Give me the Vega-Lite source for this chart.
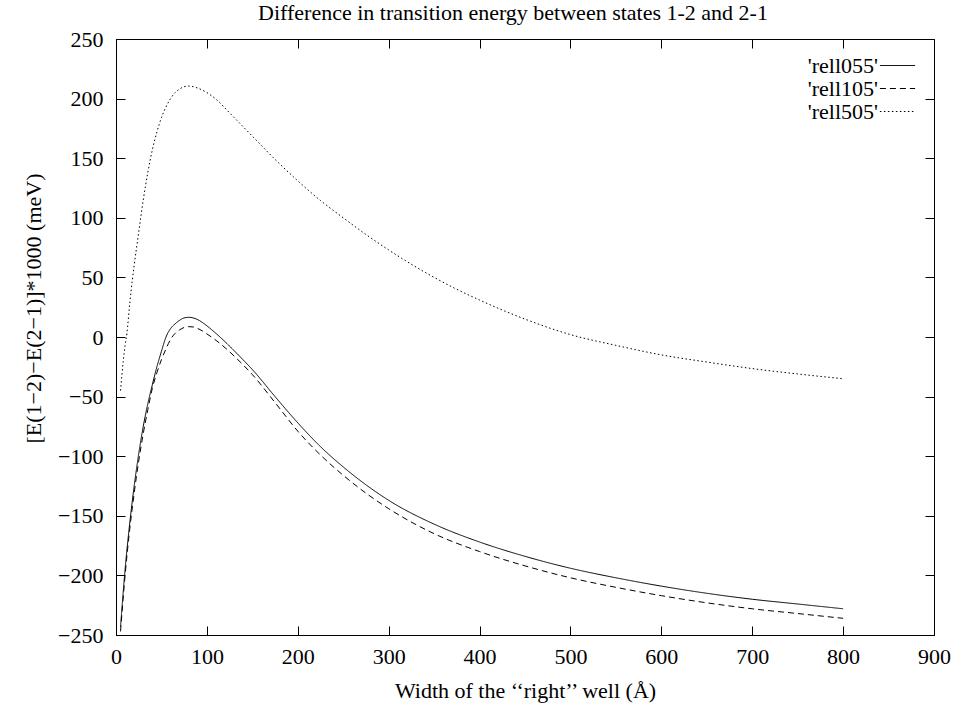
{
  "$schema": "https://vega.github.io/schema/vega-lite/v6.json",
  "width": 818,
  "height": 596,
  "autosize": {"type": "none"},
  "padding": {"left": 116, "top": 39, "right": 23, "bottom": 69},
  "background": "white",
  "config": {
    "font": "Liberation Serif",
    "view": {"stroke": "black", "strokeWidth": 1},
    "axis": {
      "labelFont": "Liberation Serif",
      "labelFontSize": 22,
      "labelColor": "black",
      "titleFont": "Liberation Serif",
      "titleFontSize": 22,
      "titleFontWeight": "normal",
      "titleColor": "black",
      "domainColor": "black",
      "tickColor": "black",
      "tickSize": -9,
      "grid": false
    }
  },
  "title": {
    "text": "Difference in transition energy between states 1-2 and 2-1",
    "font": "Liberation Serif",
    "fontSize": 22,
    "fontWeight": "normal",
    "color": "black",
    "anchor": "middle",
    "dx": -12,
    "offset": 3
  },
  "datasets": {
    "curves": [
      {"series": "'rell055'", "x": 5, "y": -243},
      {"series": "'rell055'", "x": 10, "y": -195},
      {"series": "'rell055'", "x": 15, "y": -157},
      {"series": "'rell055'", "x": 20, "y": -125},
      {"series": "'rell055'", "x": 25, "y": -98},
      {"series": "'rell055'", "x": 30, "y": -75},
      {"series": "'rell055'", "x": 35, "y": -56},
      {"series": "'rell055'", "x": 40, "y": -40},
      {"series": "'rell055'", "x": 45, "y": -25},
      {"series": "'rell055'", "x": 50, "y": -12},
      {"series": "'rell055'", "x": 55, "y": 0},
      {"series": "'rell055'", "x": 60, "y": 7},
      {"series": "'rell055'", "x": 65, "y": 11},
      {"series": "'rell055'", "x": 70, "y": 14},
      {"series": "'rell055'", "x": 75, "y": 16},
      {"series": "'rell055'", "x": 80, "y": 16.5},
      {"series": "'rell055'", "x": 85, "y": 16},
      {"series": "'rell055'", "x": 90, "y": 14.5},
      {"series": "'rell055'", "x": 95, "y": 12.2},
      {"series": "'rell055'", "x": 100, "y": 9.4},
      {"series": "'rell055'", "x": 110, "y": 3},
      {"series": "'rell055'", "x": 120, "y": -4},
      {"series": "'rell055'", "x": 130, "y": -11.5},
      {"series": "'rell055'", "x": 140, "y": -19.3},
      {"series": "'rell055'", "x": 150, "y": -27.3},
      {"series": "'rell055'", "x": 175, "y": -50},
      {"series": "'rell055'", "x": 200, "y": -72},
      {"series": "'rell055'", "x": 225, "y": -92},
      {"series": "'rell055'", "x": 250, "y": -109},
      {"series": "'rell055'", "x": 275, "y": -124},
      {"series": "'rell055'", "x": 300, "y": -137},
      {"series": "'rell055'", "x": 350, "y": -157},
      {"series": "'rell055'", "x": 400, "y": -172},
      {"series": "'rell055'", "x": 450, "y": -184},
      {"series": "'rell055'", "x": 500, "y": -194},
      {"series": "'rell055'", "x": 550, "y": -202},
      {"series": "'rell055'", "x": 600, "y": -209},
      {"series": "'rell055'", "x": 650, "y": -215},
      {"series": "'rell055'", "x": 700, "y": -220},
      {"series": "'rell055'", "x": 750, "y": -224},
      {"series": "'rell055'", "x": 800, "y": -228},
      {"series": "'rell105'", "x": 5, "y": -247},
      {"series": "'rell105'", "x": 10, "y": -200},
      {"series": "'rell105'", "x": 15, "y": -162},
      {"series": "'rell105'", "x": 20, "y": -131},
      {"series": "'rell105'", "x": 25, "y": -104},
      {"series": "'rell105'", "x": 30, "y": -81},
      {"series": "'rell105'", "x": 35, "y": -61},
      {"series": "'rell105'", "x": 40, "y": -43},
      {"series": "'rell105'", "x": 45, "y": -30},
      {"series": "'rell105'", "x": 50, "y": -19},
      {"series": "'rell105'", "x": 55, "y": -10},
      {"series": "'rell105'", "x": 60, "y": -2},
      {"series": "'rell105'", "x": 65, "y": 3},
      {"series": "'rell105'", "x": 70, "y": 6},
      {"series": "'rell105'", "x": 75, "y": 8},
      {"series": "'rell105'", "x": 80, "y": 8.7},
      {"series": "'rell105'", "x": 85, "y": 8.4},
      {"series": "'rell105'", "x": 90, "y": 7.1},
      {"series": "'rell105'", "x": 95, "y": 5.1},
      {"series": "'rell105'", "x": 100, "y": 2.6},
      {"series": "'rell105'", "x": 105, "y": 0},
      {"series": "'rell105'", "x": 110, "y": -2.8},
      {"series": "'rell105'", "x": 120, "y": -9},
      {"series": "'rell105'", "x": 130, "y": -16},
      {"series": "'rell105'", "x": 140, "y": -23.5},
      {"series": "'rell105'", "x": 150, "y": -31.5},
      {"series": "'rell105'", "x": 175, "y": -55},
      {"series": "'rell105'", "x": 200, "y": -79},
      {"series": "'rell105'", "x": 225, "y": -99},
      {"series": "'rell105'", "x": 250, "y": -116},
      {"series": "'rell105'", "x": 275, "y": -131},
      {"series": "'rell105'", "x": 300, "y": -144},
      {"series": "'rell105'", "x": 350, "y": -165},
      {"series": "'rell105'", "x": 400, "y": -180},
      {"series": "'rell105'", "x": 450, "y": -192},
      {"series": "'rell105'", "x": 500, "y": -202},
      {"series": "'rell105'", "x": 550, "y": -210},
      {"series": "'rell105'", "x": 600, "y": -217},
      {"series": "'rell105'", "x": 650, "y": -223},
      {"series": "'rell105'", "x": 700, "y": -228},
      {"series": "'rell105'", "x": 750, "y": -232},
      {"series": "'rell105'", "x": 800, "y": -236},
      {"series": "'rell505'", "x": 5, "y": -45},
      {"series": "'rell505'", "x": 8, "y": -20},
      {"series": "'rell505'", "x": 10, "y": -7},
      {"series": "'rell505'", "x": 12, "y": 3},
      {"series": "'rell505'", "x": 15, "y": 27},
      {"series": "'rell505'", "x": 18, "y": 48},
      {"series": "'rell505'", "x": 20, "y": 60},
      {"series": "'rell505'", "x": 25, "y": 88},
      {"series": "'rell505'", "x": 30, "y": 115},
      {"series": "'rell505'", "x": 35, "y": 138},
      {"series": "'rell505'", "x": 40, "y": 157},
      {"series": "'rell505'", "x": 45, "y": 172},
      {"series": "'rell505'", "x": 50, "y": 184},
      {"series": "'rell505'", "x": 55, "y": 193},
      {"series": "'rell505'", "x": 60, "y": 200},
      {"series": "'rell505'", "x": 65, "y": 205},
      {"series": "'rell505'", "x": 70, "y": 208},
      {"series": "'rell505'", "x": 75, "y": 210},
      {"series": "'rell505'", "x": 80, "y": 210.5},
      {"series": "'rell505'", "x": 85, "y": 210},
      {"series": "'rell505'", "x": 90, "y": 208.8},
      {"series": "'rell505'", "x": 100, "y": 205},
      {"series": "'rell505'", "x": 110, "y": 199.5},
      {"series": "'rell505'", "x": 125, "y": 188},
      {"series": "'rell505'", "x": 150, "y": 168.5},
      {"series": "'rell505'", "x": 175, "y": 149},
      {"series": "'rell505'", "x": 200, "y": 131},
      {"series": "'rell505'", "x": 225, "y": 114.5},
      {"series": "'rell505'", "x": 250, "y": 100},
      {"series": "'rell505'", "x": 275, "y": 86},
      {"series": "'rell505'", "x": 300, "y": 73},
      {"series": "'rell505'", "x": 325, "y": 61},
      {"series": "'rell505'", "x": 350, "y": 50},
      {"series": "'rell505'", "x": 375, "y": 40},
      {"series": "'rell505'", "x": 400, "y": 31},
      {"series": "'rell505'", "x": 450, "y": 15},
      {"series": "'rell505'", "x": 500, "y": 2},
      {"series": "'rell505'", "x": 550, "y": -7},
      {"series": "'rell505'", "x": 600, "y": -15},
      {"series": "'rell505'", "x": 650, "y": -21},
      {"series": "'rell505'", "x": 700, "y": -26.5},
      {"series": "'rell505'", "x": 750, "y": -31},
      {"series": "'rell505'", "x": 800, "y": -35}
    ]
  },
  "resolve": {"axis": {"x": "independent", "y": "independent"}},
  "layer": [
    {
      "mark": {"type": "rule", "strokeDash": [1.5, 3], "color": "black", "strokeWidth": 1},
      "encoding": {
        "y": {
          "datum": 0,
          "type": "quantitative",
          "scale": {"domain": [-250, 250], "nice": false, "zero": false},
          "axis": {"orient": "right", "labels": false, "domain": false, "title": null, "values": [-250, -200, -150, -100, -50, 0, 50, 100, 150, 200, 250]}
        }
      }
    },
    {
      "mark": {"type": "rule", "color": "black", "strokeWidth": 1},
      "encoding": {
        "x": {
          "datum": 0,
          "type": "quantitative",
          "scale": {"domain": [0, 900], "nice": false, "zero": false},
          "axis": {"orient": "top", "labels": false, "domain": false, "title": null, "values": [0, 100, 200, 300, 400, 500, 600, 700, 800, 900]}
        }
      }
    },
    {
      "data": {"name": "curves"},
      "mark": {"type": "line", "strokeWidth": 1, "interpolate": "monotone", "color": "black"},
      "encoding": {
        "x": {
          "field": "x",
          "type": "quantitative",
          "scale": {"domain": [0, 900], "nice": false, "zero": false},
          "axis": {"orient": "bottom", "title": "Width of the ‘‘right’’ well  (Å)", "values": [0, 100, 200, 300, 400, 500, 600, 700, 800, 900], "labelPadding": 20, "titlePadding": 13, "labelFlush": false}
        },
        "y": {
          "field": "y",
          "type": "quantitative",
          "scale": {"domain": [-250, 250], "nice": false, "zero": false},
          "axis": {"orient": "left", "title": "[E(1−2)−E(2−1)]*1000  (meV)", "values": [-250, -200, -150, -100, -50, 0, 50, 100, 150, 200, 250], "labelPadding": 22, "titlePadding": 12, "titleY": 269, "labelFlush": false}
        },
        "strokeDash": {
          "field": "series",
          "type": "nominal",
          "scale": {"domain": ["'rell055'", "'rell105'", "'rell505'"], "range": [[1, 0], [6, 4], [1.5, 2.5]]},
          "legend": {
            "orient": "none",
            "legendX": 770,
            "legendY": 15,
            "title": null,
            "symbolType": "M-1.6,0H1.6",
            "symbolSize": 484,
            "symbolStrokeColor": "black",
            "symbolStrokeWidth": 1,
            "labelFont": "Liberation Serif",
            "labelFontSize": 22,
            "labelColor": "black",
            "labelAlign": "right",
            "labelOffset": -31,
            "rowPadding": 0
          }
        }
      }
    }
  ]
}
